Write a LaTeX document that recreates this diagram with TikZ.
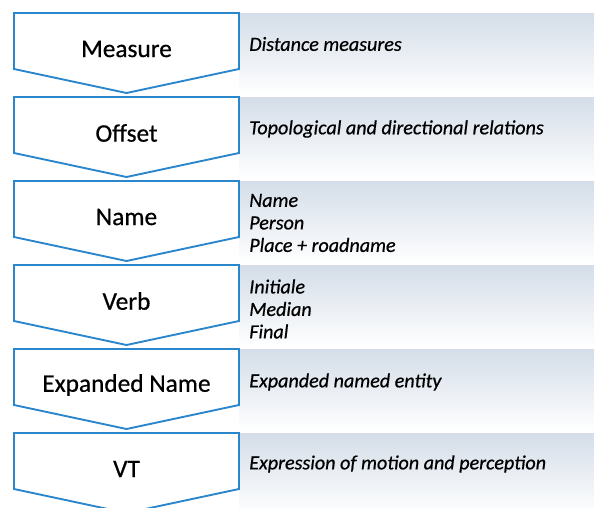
\documentclass[tikz,border=0pt]{standalone}
\usepackage{fontspec}
\setmainfont{Carlito}[FakeBold=0.6]
\definecolor{stageblue}{RGB}{44,134,204}
\definecolor{bargray}{RGB}{212,221,232}

\begin{document}
\begin{tikzpicture}[
		x=0.025cm, y=-0.025cm,
		stage/.style={draw=stageblue, line width=1.35pt, fill=white},
		bar/.style={top color=bargray, bottom color=white},
		stagelabel/.style={font=\fontsize{18}{21}\selectfont},
		note/.style={font=\fontsize{14.3}{16}\selectfont\itshape, align=left, anchor=west, inner sep=0pt}
	]

	\useasboundingbox (0,0) rectangle (594,508);

	\foreach \name/\desc/\dy [count=\i from 0] in {
			Measure/{Distance measures}/31,
			Offset/{Topological and directional relations}/32,
			Name/{Name\\Person\\Place + roadname}/42,
			Verb/{Initiale\\Median\\Final}/44,
			Expanded Name/{Expanded named entity}/33,
			VT/{Expression of motion and perception}/31
		}{
			\pgfmathsetmacro{\ytop}{13+84*\i}
			\fill[bar] (239,\ytop) rectangle (594,\ytop+82);
			\draw[stage] (14,\ytop) -- (239,\ytop) -- (239,\ytop+56)
				-- (126.5,\ytop+80) -- (14,\ytop+56) -- cycle;
			\node[stagelabel] (stage\i) at (126.5,\ytop+36) {\name};
			\node[note] (note\i) at (249,\ytop+\dy) {\desc};
		}

\end{tikzpicture}
\end{document}
